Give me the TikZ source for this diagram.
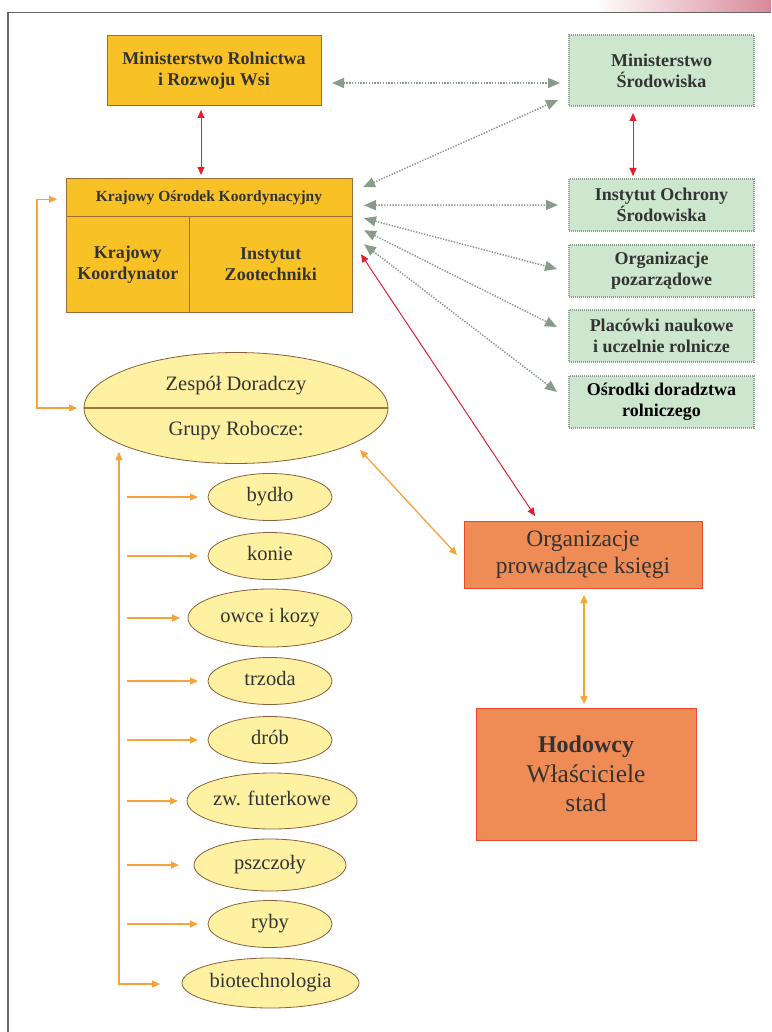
\documentclass[tikz,border=0pt]{standalone}
\usepackage{fontspec}
\setmainfont{Liberation Serif}
\usetikzlibrary{arrows.meta,shapes.geometric,calc}
\definecolor{ybox}{HTML}{F8C125}
\definecolor{ybord}{HTML}{9C6B3C}
\definecolor{gfill}{HTML}{CDE7CE}
\definecolor{gbord}{HTML}{8E9E8E}
\definecolor{efill}{HTML}{FEF1A1}
\definecolor{ebord}{HTML}{8B5E3C}
\definecolor{ofill}{HTML}{EF8C56}
\definecolor{obord}{HTML}{E84A2E}
\definecolor{rarrc}{HTML}{E4202F}
\definecolor{oarrc}{HTML}{F6A33A}
\definecolor{garr}{HTML}{8A9B8D}
\definecolor{txtc}{HTML}{333333}
\definecolor{bordgray}{HTML}{666666}
\definecolor{pinkc}{HTML}{D8899A}
\begin{document}
\begin{tikzpicture}[x=1pt,y=-1pt,
  ybx/.style={draw=ybord, fill=ybox, line width=1, inner sep=0, outer sep=0, align=center, text=txtc, font=\bfseries\fontsize{18}{21}\selectfont},
  gbx/.style={draw=gbord, fill=gfill, line width=1.1, dash pattern=on 1pt off 1pt, inner sep=0, outer sep=0, align=center, text=txtc, minimum width=185, minimum height=52, font=\bfseries\fontsize{18}{21}\selectfont},
  ell/.style={ellipse, draw=ebord, fill=efill, line width=0.8, inner sep=0, outer sep=0, text=txtc, text height=14pt, text depth=4.5pt, font=\fontsize{20.5}{24}\selectfont},
  lbl/.style={text=txtc, inner sep=0, font=\fontsize{20.5}{24}\selectfont},
  obx/.style={draw=obord, fill=ofill, line width=1, inner sep=0, outer sep=0, align=center, text=txtc},
  darr/.style={draw=garr, line width=1.5, dash pattern=on 1.4pt off 1.4pt, {Triangle[length=12pt,width=10pt]}-{Triangle[length=12pt,width=10pt]}},
  rarr/.style={draw=rarrc, line width=1, {Triangle[length=8pt,width=7pt]}-{Triangle[length=8pt,width=7pt]}},
  oarr/.style={draw=oarrc, line width=1.3, {Triangle[length=8pt,width=7pt]}-{Triangle[length=8pt,width=7pt]}},
  oarrone/.style={draw=oarrc, line width=1.3, -{Triangle[length=8pt,width=7pt]}},
]
\useasboundingbox (0,0) rectangle (771,1032);
% frame
\shade[left color=white, right color=pinkc] (593,0) rectangle (771,11.5);
\draw[bordgray, line width=1.8] (771,12.5) -- (8,12.5) -- (8,1032);

% top boxes
\node[ybx, minimum width=214, minimum height=70] (mr) at (214,71) {Ministerstwo Rolnictwa\\i Rozwoju Wsi};
\node[gbx, minimum height=71] (ms) at (661.5,70.5) {Ministerstwo\\Środowiska};

% KOK
\node[ybx, minimum width=286, minimum height=37.5, font=\bfseries\fontsize{15.5}{18}\selectfont] (kt) at (209,197.75) {Krajowy Ośrodek Koordynacyjny};
\node[ybx, minimum width=123.5, minimum height=95.5] (kl) at (127.75,264.25) {Krajowy\\Koordynator};
\node[ybx, minimum width=162.5, minimum height=95.5] (kr) at (270.75,264.25) {Instytut\\Zootechniki};

% green boxes
\node[gbx] (ios) at (661.5,205) {Instytut Ochrony\\Środowiska};
\node[gbx] (op) at (661.5,271) {Organizacje\\pozarządowe};
\node[gbx] (pn) at (661.5,336) {Placówki naukowe\\i uczelnie rolnicze};
\node[gbx, text=black] (od) at (661.5,402) {Ośrodki doradztwa\\rolniczego};

% big ellipse
\node[ell, minimum width=304, minimum height=111] (zd) at (236,408) {};
\draw[draw=ebord!80!ybox, line width=1.2] (zd.west) -- (zd.east);
\node[lbl, anchor=base] (zdt) at (236,390) {Zespół Doradczy};
\node[lbl, anchor=base] (grt) at (236,435) {Grupy Robocze:};

% small ellipses
\node[ell, minimum width=124, minimum height=47] (e1) at (270,497) {bydło};
\node[ell, minimum width=124, minimum height=47] (e2) at (270,556) {konie};
\node[ell, minimum width=164, minimum height=58] (e3) at (270,618) {owce i kozy};
\node[ell, minimum width=124, minimum height=47] (e4) at (270,681) {trzoda};
\node[ell, minimum width=124, minimum height=47] (e5) at (270,740) {drób};
\node[ell, minimum width=170, minimum height=56] (e6) at (272,801) {zw. futerkowe};
\node[ell, minimum width=152, minimum height=52] (e7) at (270,865) {pszczoły};
\node[ell, minimum width=124, minimum height=47] (e8) at (270,924) {ryby};
\node[ell, minimum width=177, minimum height=50] (e9) at (270.5,983) {biotechnologia};

% orange boxes
\node[obx, minimum width=238, minimum height=67, font=\fontsize{23.5}{27}\selectfont] (opk) at (583,554.5) {Organizacje\\prowadzące księgi};
\node[obx, minimum width=220, minimum height=132, font=\fontsize{25.5}{29.5}\selectfont] (hod) at (586,774) {{\bfseries\fontsize{24}{29.5}\selectfont Hodowcy}\\Właściciele\\stad};

% dotted grey arrows
\draw[darr] ($(mr.east)+(11,12)$) -- ($(ms.west)+(-9,12.5)$);
\draw[darr] ($(kt.east)+(11,-10.5)$) -- ($(ms.west)+(-11,29.5)$);
\draw[darr] ($(kt.east)+(12,7.5)$) -- ($(ios.west)+(-11,0)$);
\draw[darr] ($(kt.east)+(12,20.5)$) -- ($(op.west)+(-12,-2)$);
\draw[darr] ($(kt.east)+(12,32.5)$) -- ($(pn.west)+(-12,-9)$);
\draw[darr] ($(kt.east)+(12,46.5)$) -- ($(od.west)+(-12,-10)$);

% red arrows
\draw[rarr] ($(mr.south)+(-13,4)$) -- ($(kt.north)+(-8,-4)$);
\draw[rarr] ($(ms.south)+(-28.5,7)$) -- ($(ios.north)+(-28.5,-3)$);
\draw[rarr] ($(kr.east)+(9,-10)$) -- ($(opk.north)+(-48,-5)$);

% orange arrows
\draw[oarr] ($(kt.west)+(-9,1.5)$) -| ($(zd.west)+(-47,0)$) -- ($(zd.west)+(-7,0)$);
\draw[oarr] ($(zd.center)+(-117,44)$) |- ($(e9.west)+(-22,1)$);
\draw[oarr] ($(zd.center)+(124,42)$) -- ($(opk.west)+(-7,0.5)$);
\draw[oarr] ($(opk.south)+(1,7)$) -- ($(hod.north)+(-2,-4)$);

\draw[oarrone] (127,0 |- e1.west) -- ($(e1.west)+(-10,0)$);
\draw[oarrone] (127,0 |- e2.west) -- ($(e2.west)+(-10,0)$);
\draw[oarrone] (127,0 |- e3.west) -- ($(e3.west)+(-8,0)$);
\draw[oarrone] (127,0 |- e4.west) -- ($(e4.west)+(-10,0)$);
\draw[oarrone] (127,0 |- e5.west) -- ($(e5.west)+(-10,0)$);
\draw[oarrone] (127,0 |- e6.west) -- ($(e6.west)+(-9,0)$);
\draw[oarrone] (127,0 |- e7.west) -- ($(e7.west)+(-15,0)$);
\draw[oarrone] (127,0 |- e8.west) -- ($(e8.west)+(-10,0)$);
\end{tikzpicture}
\end{document}
